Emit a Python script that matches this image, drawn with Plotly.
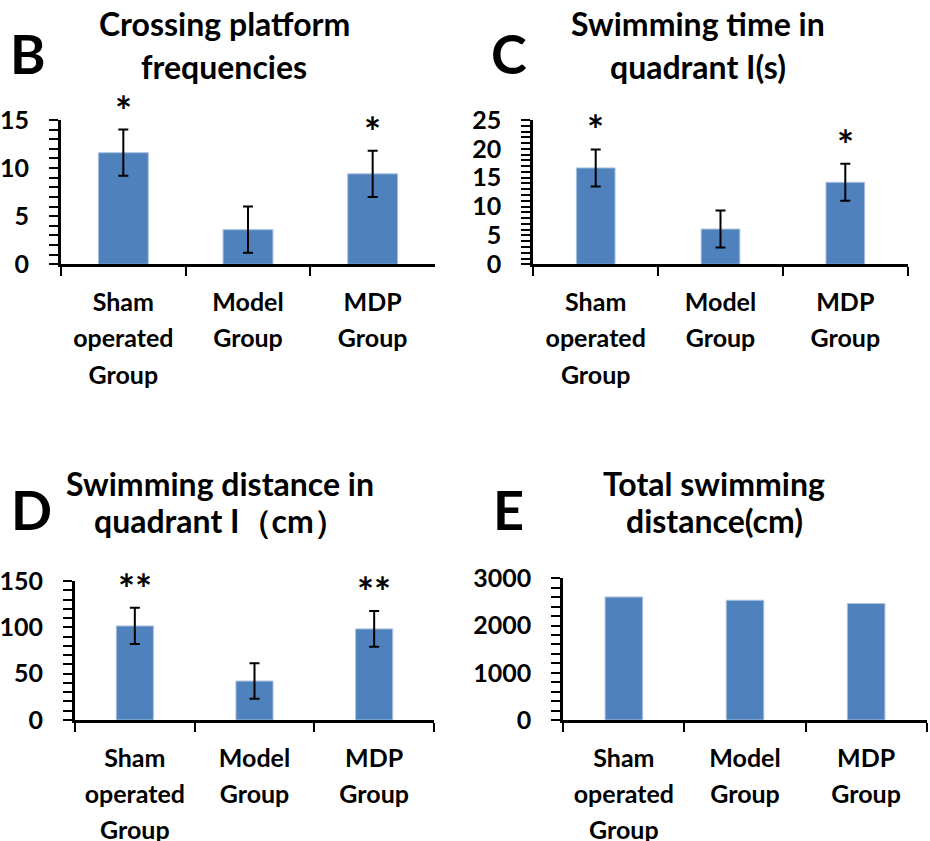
import plotly.graph_objects as go

categories = ["Sham<br>operated<br>Group", "Model<br>Group", "MDP<br>Group"]

crossing_mean = [11.6, 3.6, 9.4]
crossing_err = [2.4, 2.4, 2.4]
crossing_sig = ["*", "", "*"]

time_mean = [16.7, 6.1, 14.2]
time_err = [3.2, 3.2, 3.2]
time_sig = ["*", "", "*"]

dist_mean = [101.5, 42.0, 98.3]
dist_err = [19.5, 19.2, 19.3]
dist_sig = ["**", "", "**"]

total_mean = [2605, 2535, 2465]

titles = [["Crossing platform", "frequencies"],
          ["Swimming time in", "quadrant I(s)"],
          ["Swimming distance in", "quadrant I（cm）"],
          ["Total swimming", "distance(cm)"]]
letters = ["B", "C", "D", "E"]

FONT = "Lato"
BAR = "#4F81BD"
W, H = 930, 841
CAT_SIZE = 25


def styled(label):
    return "<br>".join(f"<span style='font-size:{CAT_SIZE}px'>{ln}</span>" for ln in label.split("<br>"))


panels = [
    dict(mean=crossing_mean, err=crossing_err, sig=crossing_sig, yr=[0, 15], dt=5, minor=1,
         px=(61, 435), py=(264.3, 120), bw=0.4),
    dict(mean=time_mean, err=time_err, sig=time_sig, yr=[0, 25], dt=5, minor=1,
         px=(533.3, 907.7), py=(264.3, 120), bw=0.31),
    dict(mean=dist_mean, err=dist_err, sig=dist_sig, yr=[0, 150], dt=50, minor=10,
         px=(75, 434), py=(720, 581), bw=0.31),
    dict(mean=total_mean, err=None, sig=None, yr=[0, 3000], dt=1000, minor=200,
         px=(563.3, 926.7), py=(720, 578.3), bw=0.31),
]

fig = go.Figure()
layout = {}
annotations = []

for i, p in enumerate(panels):
    n = "" if i == 0 else str(i + 1)
    xa, ya = "x" + n, "y" + n
    trace = go.Bar(
        x=categories, y=p["mean"], xaxis=xa, yaxis=ya, width=p["bw"],
        marker=dict(color=BAR, line=dict(color="#a9c1e0", width=1)),
        showlegend=False,
    )
    if p["err"] is not None:
        trace.error_y = dict(type="data", array=p["err"], color="black", thickness=2, width=5)
    fig.add_trace(trace)

    layout["xaxis" + n] = dict(
        domain=[p["px"][0] / W, p["px"][1] / W], anchor=ya, type="category",
        range=[-0.5, 2.5], showline=True, linecolor="black", linewidth=3,
        ticks="outside", tickson="boundaries", ticklen=9, tickwidth=2, tickcolor="black",
        tickmode="array", tickvals=categories, ticktext=[styled(c) for c in categories],
        showgrid=False, zeroline=False, fixedrange=True, automargin=False,
        tickfont=dict(family=FONT, size=28, color="black", weight="bold"),
        ticklabelstandoff=10,
    )
    layout["yaxis" + n] = dict(
        domain=[1 - p["py"][0] / H, 1 - p["py"][1] / H], anchor=xa,
        range=p["yr"], dtick=p["dt"], showline=True, linecolor="black", linewidth=3,
        ticks="outside", ticklen=9, tickwidth=2, tickcolor="black",
        minor=dict(dtick=p["minor"], ticks="outside", ticklen=9, tickwidth=2, tickcolor="black", showgrid=False),
        showgrid=False, zeroline=False, fixedrange=True, automargin=False,
        tickfont=dict(family=FONT, size=25, color="black", weight="bold"),
        ticklabelstandoff=15,
    )

    if p["sig"] is not None:
        for j, s in enumerate(p["sig"]):
            if s:
                annotations.append(dict(
                    x=categories[j], y=p["mean"][j] + p["err"][j], xref=xa, yref=ya,
                    text=s, showarrow=False, yanchor="middle", yshift=19,
                    font=dict(family=FONT, size=40, color="black", weight="bold"),
                ))

# titles and panel letters
title_pos = [(224, 24, 66), (698, 24, 66), (220, 483, 520), (714, 483, 520)]
letter_pos = [(28, 53), (509, 53), (31, 509), (508, 509)]
for i in range(4):
    cx, y1, y2 = title_pos[i]
    for t, yy in zip(titles[i], (y1, y2)):
        annotations.append(dict(
            x=cx / W, y=1 - yy / H, xref="paper", yref="paper", text=t, showarrow=False,
            xanchor="center", yanchor="middle",
            font=dict(family=FONT, size=32, color="black", weight="bold"),
        ))
    lx, ly = letter_pos[i]
    annotations.append(dict(
        x=lx / W, y=1 - ly / H, xref="paper", yref="paper", text=letters[i], showarrow=False,
        xanchor="center", yanchor="middle",
        font=dict(family=FONT, size=54, color="black", weight="bold"),
    ))

fig.update_layout(
    **layout,
    annotations=annotations,
    width=W, height=H, margin=dict(l=0, r=0, t=0, b=0, autoexpand=False),
    paper_bgcolor="white", plot_bgcolor="white",
    font=dict(family=FONT, color="black"),
)

fig.write_html("out.html", config={"displayModeBar": False},
               post_script="document.body.style.margin='0';document.body.style.padding='0';")
